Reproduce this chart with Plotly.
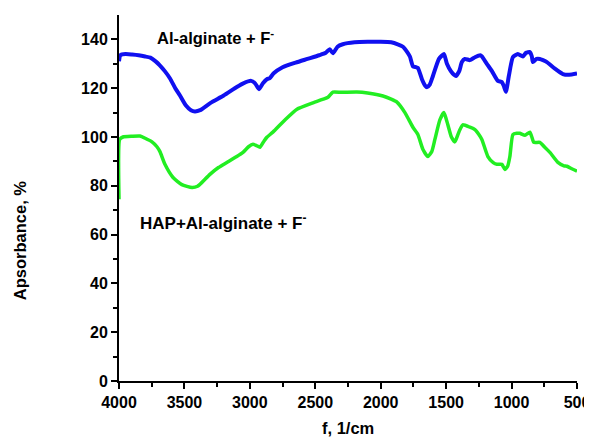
import plotly.graph_objects as go

# wavenumber (1/cm) and absorbance (%)
al_x = [4000, 3990, 3950, 3900, 3850, 3800, 3760, 3720, 3690, 3650, 3610, 3570, 3534,
        3490, 3450, 3420, 3380, 3300, 3200, 3100, 3050, 2990, 2960, 2930, 2900, 2870,
        2850, 2820, 2750, 2650, 2560, 2470, 2420, 2390, 2365, 2330, 2290, 2200, 2100,
        2000, 1920, 1870, 1830, 1800, 1777, 1754, 1730, 1716, 1685, 1660, 1647, 1625,
        1601, 1555, 1517, 1494, 1464, 1440, 1425, 1400, 1380, 1357, 1318, 1280, 1240,
        1227, 1189, 1150, 1105, 1074, 1060, 1043, 1021, 990, 952, 914, 890, 860, 845,
        837, 810, 784, 760, 730, 669, 608, 560, 500]
al_y = [131, 133.5, 134, 133.8, 133.5, 133, 132.5, 131, 129.5, 127, 124, 120, 117,
        113, 111, 110.5, 111, 114, 117, 120.5, 122, 123, 122, 119.6, 122, 123.7,
        124, 126, 128.6, 130.5, 132, 133.5, 134.5, 136, 134.3, 137, 138, 138.8, 139,
        139, 138.8, 138, 137, 135, 133, 129, 128.6, 128.3, 123.7, 121, 120.4, 121.5,
        125, 132, 134, 130, 127, 125.5, 125, 127, 130.7, 132, 131.5, 132.7, 133.5,
        133, 130, 127, 123, 122.5, 121, 118.5, 125, 132.7, 134, 133, 134.5, 134.8, 133,
        130.7, 132, 132, 131.5, 130.7, 128, 125.8, 125.5, 126]

hap_x = [4000, 3995, 3970, 3900, 3840, 3800, 3748, 3710, 3687, 3649, 3587, 3520, 3442,
         3400, 3366, 3305, 3240, 3175, 3100, 3053, 3010, 2976, 2950, 2923, 2890, 2870,
         2824, 2732, 2640, 2518, 2440, 2403, 2365, 2300, 2182, 2100, 1983, 1920, 1876,
         1815, 1754, 1716, 1678, 1640, 1610, 1586, 1548, 1517, 1487, 1460, 1433, 1410,
         1395, 1372, 1318, 1280, 1250, 1227, 1181, 1140, 1112, 1074, 1051, 1030, 1013,
         990, 960, 937, 898, 860, 845, 830, 784, 750, 707, 646, 600, 577, 540, 500]
hap_y = [74.5, 99, 100, 100.3, 100.4, 99.5, 98, 96, 94, 88.8, 83.4, 80.5, 79.3,
         79.8, 81.4, 84.7, 87.5, 89.6, 92, 93.7, 96, 97, 96.5, 95.8, 98.5, 99.9,
         102, 107, 111.4, 114, 115.5, 116.3, 118.4, 118.3, 118.4, 118, 116.8, 115.5, 114.3,
         110, 104, 101, 95, 92, 94, 99, 107, 110, 105, 100, 98, 101,
         103, 105, 104, 103, 101, 99, 92, 89.5, 88.8, 88.8, 86.7, 88, 92,
         101, 101.5, 101.5, 100.7, 102, 100, 97.8, 97.8, 96, 93.7, 89.6, 88.2, 88, 87, 86]

x_ticks = [4000, 3500, 3000, 2500, 2000, 1500, 1000, 500]
y_ticks = [0, 20, 40, 60, 80, 100, 120, 140]

font_family = "Liberation Sans, Arial, sans-serif"

fig = go.Figure()
fig.add_trace(go.Scatter(x=al_x, y=al_y, mode="lines",
                         line=dict(color="#1010f0", width=4, shape="spline", smoothing=0.5)))
fig.add_trace(go.Scatter(x=hap_x, y=hap_y, mode="lines",
                         line=dict(color="#22ee22", width=3.5, shape="spline", smoothing=0.5)))

# curve labels
fig.add_annotation(x=3725, y=141, xref="x", yref="y", xanchor="left", showarrow=False,
                   text="<b>Al-alginate + F<sup>-</sup></b>", font=dict(size=16.5, color="black"))
fig.add_annotation(x=3855, y=65.3, xref="x", yref="y", xanchor="left", showarrow=False,
                   text="<b>HAP+Al-alginate + F<sup>-</sup></b>", font=dict(size=17, color="black"))

# axis titles as annotations so the margins stay put
fig.add_annotation(x=-0.216, y=0.385, xref="paper", yref="paper", showarrow=False,
                   xanchor="center", yanchor="middle",
                   text="<b>Apsorbance, %</b>", textangle=-90, font=dict(size=16.5, color="black"))
fig.add_annotation(x=0.5, y=-0.128, xref="paper", yref="paper", showarrow=False,
                   xanchor="center", yanchor="middle", borderpad=0,
                   text="<b>f, 1/cm</b>", font=dict(size=16.5, color="black"))

axis_style = dict(showline=True, linecolor="black", linewidth=2, ticks="outside",
                  tickcolor="black", tickwidth=2, ticklen=6, showgrid=False, zeroline=False,
                  automargin=False,
                  tickfont=dict(size=16, family=font_family, color="black", weight="bold"))

fig.update_xaxes(range=[4000, 500], tickvals=x_ticks,
                 minor=dict(ticks="outside", tickvals=[3750, 3250, 2750, 2250, 1750, 1250, 750],
                            ticklen=4, tickwidth=2, tickcolor="black"),
                 **axis_style)
fig.update_yaxes(range=[0, 150], tickvals=y_ticks,
                 minor=dict(ticks="outside", tickvals=[10, 30, 50, 70, 90, 110, 130],
                            ticklen=4, tickwidth=2, tickcolor="black"),
                 **axis_style)

# the page adds an 8px body margin, so the figure is 16px smaller than the window
fig.update_layout(width=584, height=431, showlegend=False,
                  plot_bgcolor="white", paper_bgcolor="white",
                  margin=dict(l=111, r=15, t=7, b=58),
                  font=dict(family=font_family, color="black"))

fig.write_html("out.html")
